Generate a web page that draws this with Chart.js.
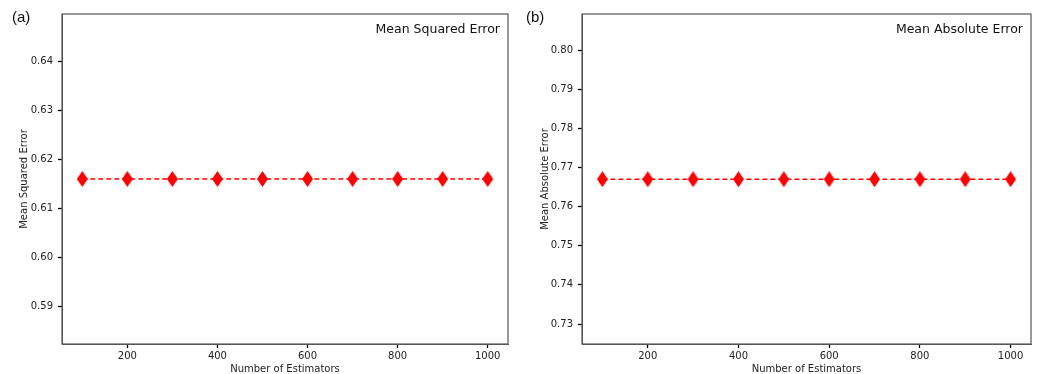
<!DOCTYPE html>
<html>
<head>
<meta charset="utf-8">
<script src="https://cdn.jsdelivr.net/npm/chart.js@4/dist/chart.umd.min.js"></script>
<style>
  html, body { margin: 0; padding: 0; background: #fff; }
  #wrap { position: relative; width: 1041px; height: 374px; }
  canvas { position: absolute; top: 0; }
  .tag { position: absolute; top: 8px; font: 15px "Liberation Sans", Arial, sans-serif; color: #111; }
</style>
</head>
<body>
<div id="wrap">
  <canvas id="mseChart" width="520" height="374" style="left:0"></canvas>
  <canvas id="maeChart" width="521" height="374" style="left:520px"></canvas>
  <div class="tag" style="left:12px">(a)</div>
  <div class="tag" style="left:526px">(b)</div>
</div>
<script>
var estimators = [100, 200, 300, 400, 500, 600, 700, 800, 900, 1000];
var mseValues = [0.616, 0.616, 0.616, 0.616, 0.616, 0.616, 0.616, 0.616, 0.616, 0.616];
var maeValues = [0.767, 0.767, 0.767, 0.767, 0.767, 0.767, 0.767, 0.767, 0.767, 0.767];
var xTicks = [200, 400, 600, 800, 1000];
var mseTicks = [0.59, 0.60, 0.61, 0.62, 0.63, 0.64];
var maeTicks = [0.73, 0.74, 0.75, 0.76, 0.77, 0.78, 0.79, 0.80];

var FONT = '"DejaVu Sans", sans-serif';

// thin matplotlib-style diamond marker
function diamond() {
    var c = document.createElement('canvas');
    c.width = 11; c.height = 16;
    var g = c.getContext('2d');
    g.fillStyle = '#ff0000';
    g.beginPath();
    g.moveTo(5.5, 0); g.lineTo(11, 8); g.lineTo(5.5, 16); g.lineTo(0, 8);
    g.closePath();
    g.fill();
    return c;
}

var boxAndTitle = {
    id: 'boxAndTitle',
    afterDraw: function (chart) {
        var a = chart.chartArea, ctx = chart.ctx;
        ctx.save();
        ctx.strokeStyle = '#555';
        ctx.lineWidth = 1.2;
        ctx.strokeRect(a.left, a.top, a.right - a.left, a.bottom - a.top);
        ctx.fillStyle = '#111';
        ctx.font = '12.5px ' + FONT;
        ctx.textAlign = 'right';
        ctx.textBaseline = 'middle';
        ctx.fillText(chart.options.plugins.boxAndTitle.text, a.right - 8, a.top + 16);
        ctx.restore();
    }
};

function makeChart(id, values, yTicks, yMin, yMax, yTitle, title, padRight, yTitlePad) {
    var marker = diamond();
    return new Chart(document.getElementById(id), {
        type: 'line',
        data: {
            datasets: [{
                data: estimators.map(function (x, i) { return { x: x, y: values[i] }; }),
                borderColor: '#ff0000',
                borderWidth: 1.6,
                borderDash: [5, 3],
                pointStyle: marker,
                pointRadius: 8,
                fill: false
            }]
        },
        options: {
            responsive: false,
            devicePixelRatio: 1,
            animation: false,
            layout: { padding: { left: 0, top: 14, right: padRight, bottom: 0 } },
            plugins: {
                legend: { display: false },
                tooltip: { enabled: false },
                boxAndTitle: { text: title }
            },
            scales: {
                x: {
                    type: 'linear',
                    min: 55,
                    max: 1045,
                    afterBuildTicks: function (s) { s.ticks = xTicks.map(function (v) { return { value: v }; }); },
                    afterFit: function (s) { s.height = 30; },
                    border: { display: true, color: '#555' },
                    grid: { drawOnChartArea: false, drawTicks: true, tickLength: 4, tickWidth: 1.3, tickColor: '#000', color: '#000' },
                    ticks: {
                        padding: 2, color: '#222', font: { family: FONT, size: 10 },
                        callback: function (v) { return String(v); }
                    },
                    title: {
                        display: true, text: 'Number of Estimators', color: '#222',
                        font: { family: FONT, size: 10, lineHeight: 1.0 },
                        padding: { top: 0, bottom: 0 }
                    }
                },
                y: {
                    min: yMin,
                    max: yMax,
                    afterBuildTicks: function (s) { s.ticks = yTicks.map(function (v) { return { value: v }; }); },
                    afterFit: function (s) { s.width = 62; },
                    border: { display: true, color: '#555' },
                    grid: { drawOnChartArea: false, drawTicks: true, tickLength: 4, tickWidth: 1.3, tickColor: '#000', color: '#000' },
                    ticks: {
                        padding: 5, color: '#222', font: { family: FONT, size: 10 },
                        callback: function (v) { return Number(v).toFixed(2); }
                    },
                    title: {
                        display: true, text: yTitle, color: '#222',
                        font: { family: FONT, size: 10, lineHeight: 1.2 },
                        padding: { top: yTitlePad, bottom: 0 }
                    }
                }
            }
        },
        plugins: [boxAndTitle]
    });
}

makeChart('mseChart', mseValues, mseTicks, 0.5823, 0.6497, 'Mean Squared Error', 'Mean Squared Error', 12, 18);
makeChart('maeChart', maeValues, maeTicks, 0.7249, 0.8092, 'Mean Absolute Error', 'Mean Absolute Error', 10, 19);
</script>
</body>
</html>
